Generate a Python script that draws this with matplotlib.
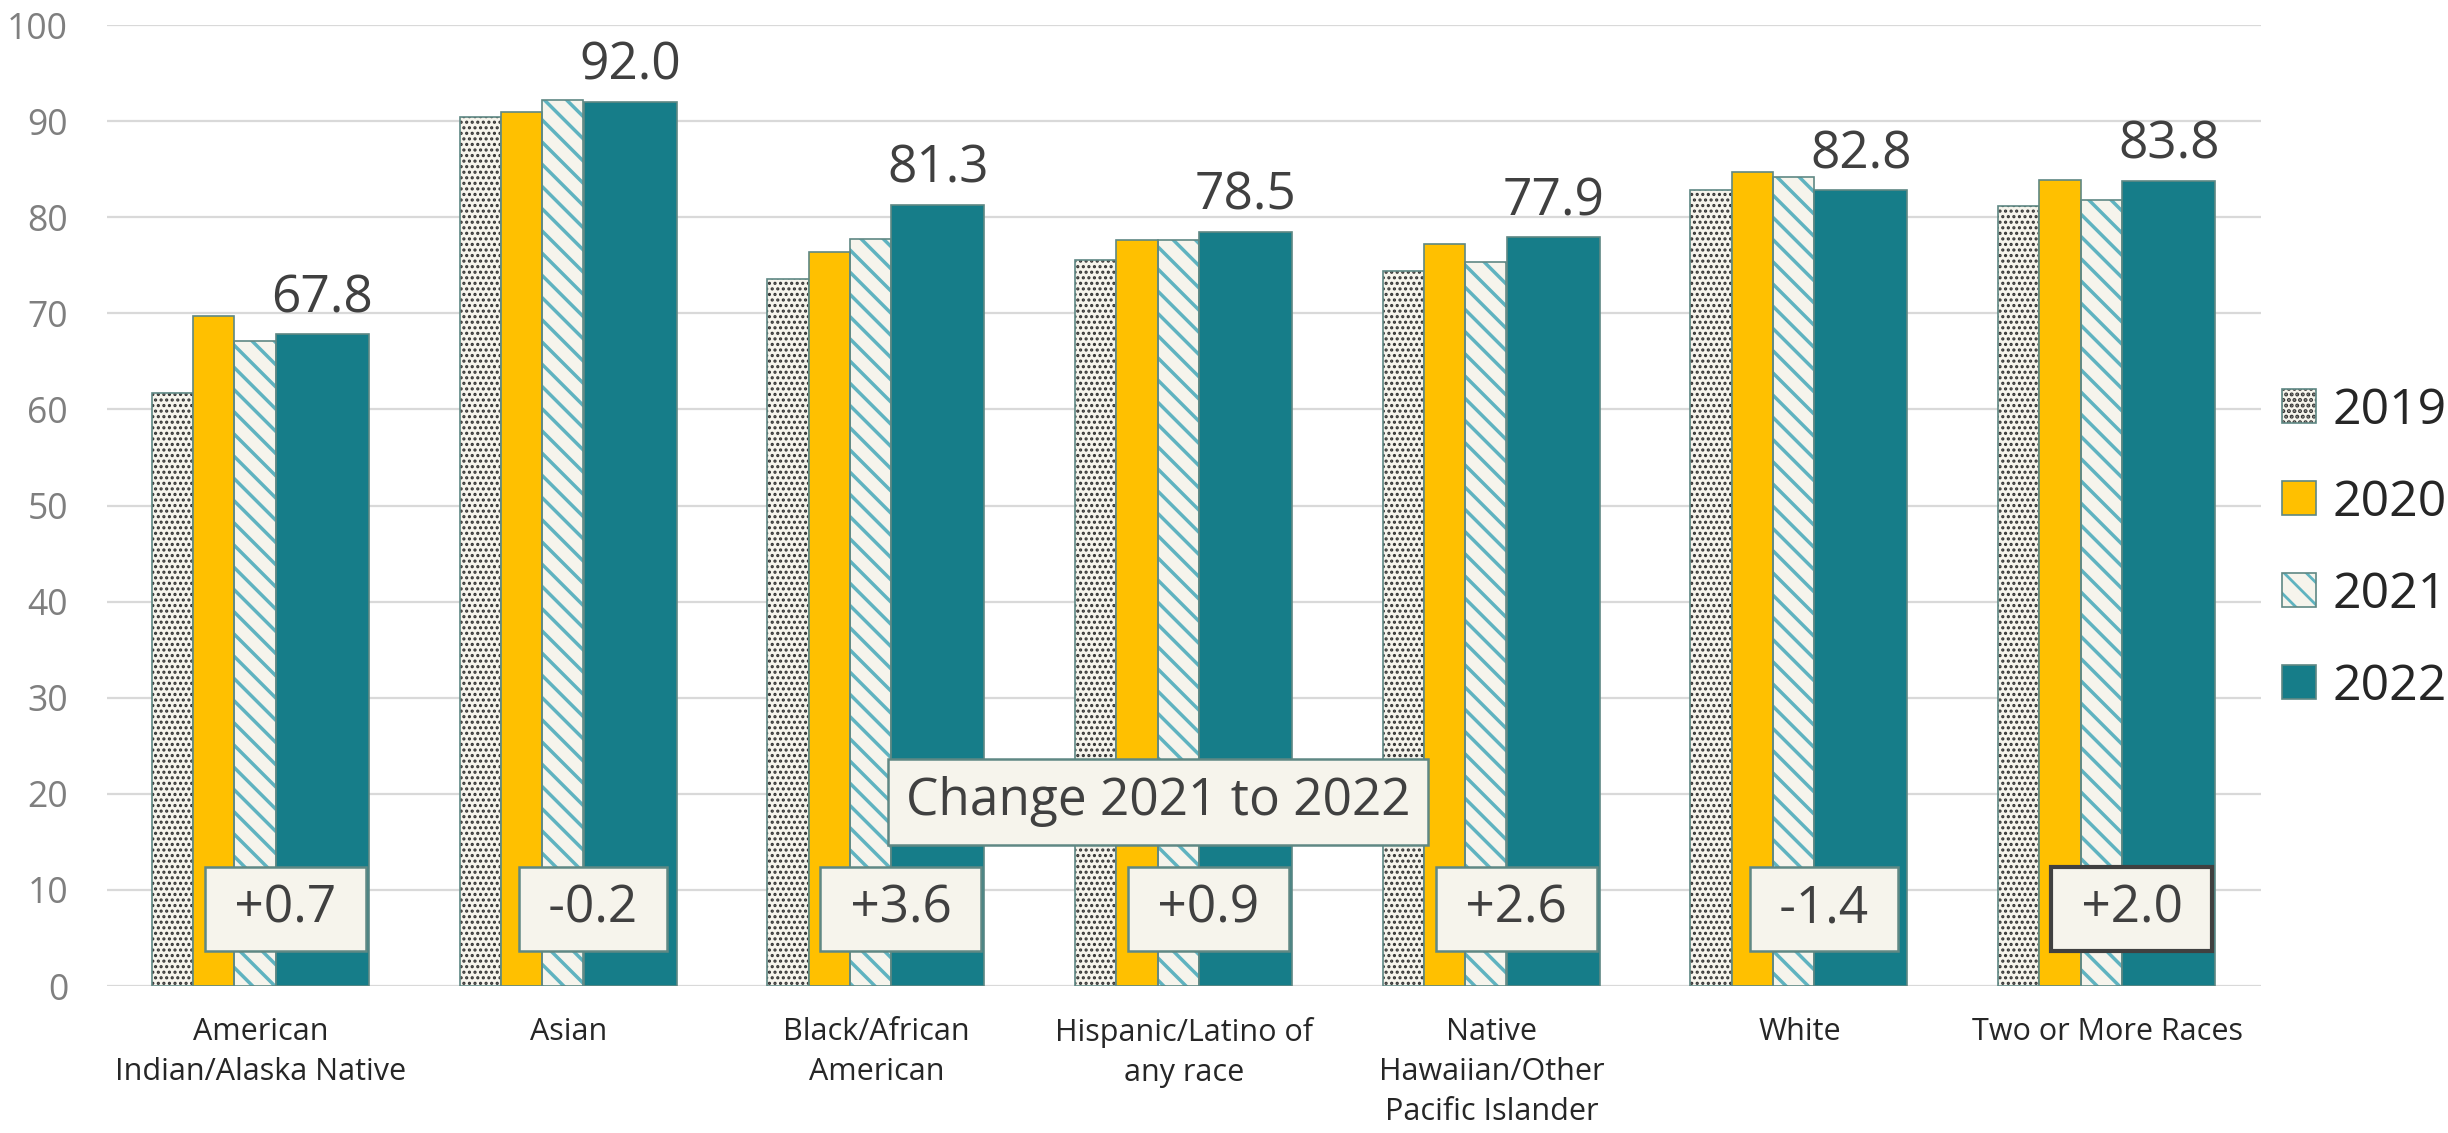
import numpy as np
import matplotlib
matplotlib.use("Agg")
import matplotlib.pyplot as plt
from matplotlib.patches import Patch
from matplotlib.legend_handler import HandlerTuple

plt.rcParams['font.family'] = ['Open Sans', 'DejaVu Sans']
plt.rcParams['hatch.linewidth'] = 1.0

categories = ["American\nIndian/Alaska Native", "Asian", "Black/African\nAmerican",
              "Hispanic/Latino of\nany race", "Native\nHawaiian/Other\nPacific Islander",
              "White", "Two or More Races"]
years = ["2019", "2020", "2021", "2022"]
v2019 = [61.7, 90.4, 73.6, 75.6, 74.4, 82.8, 81.2]
v2020 = [69.7, 91.0, 76.4, 77.6, 77.2, 84.7, 83.9]
v2021 = [67.1, 92.2, 77.7, 77.6, 75.3, 84.2, 81.8]
v2022 = [67.8, 92.0, 81.3, 78.5, 77.9, 82.8, 83.8]
change_title = "Change 2021 to 2022"
yticks = [0, 10, 20, 30, 40, 50, 60, 70, 80, 90, 100]

CREAM = "#f6f4ec"
EDGE = "#5f8884"
GOLD = "#ffc000"
TEAL = "#167d89"
STRIPE = "#5fb3c0"
DOT = "#333333"
DOT_HATCH = "......"
STRIPE_HATCH = "\\\\\\"


def set_hlw(artists, lw):
    for a in artists:
        try:
            a.set_hatch_linewidth(lw)
        except AttributeError:
            pass


fig = plt.figure(figsize=(12.24, 5.665), dpi=200)
ax = fig.add_axes([0.0437, 0.1297, 0.8799, 0.8482])
x = np.arange(len(categories))

w = 0.134
w22 = 0.302
offs = [-0.287, -0.153, -0.019, 0.200]
edge_lw = 0.6

# 2019: dotted
b = ax.bar(x + offs[0], v2019, w, color=CREAM, edgecolor=DOT, hatch=DOT_HATCH, linewidth=0, zorder=2)
set_hlw(b, 0.75)
ax.bar(x + offs[0], v2019, w, fill=False, edgecolor=EDGE, linewidth=edge_lw, zorder=3)
# 2020: gold
ax.bar(x + offs[1], v2020, w, color=GOLD, edgecolor=EDGE, linewidth=edge_lw, zorder=3)
# 2021: stripes
b = ax.bar(x + offs[2], v2021, w, color=CREAM, edgecolor=STRIPE, hatch=STRIPE_HATCH, linewidth=0, zorder=2)
set_hlw(b, 1.25)
ax.bar(x + offs[2], v2021, w, fill=False, edgecolor=EDGE, linewidth=edge_lw, zorder=3)
# 2022: teal wide
ax.bar(x + offs[3], v2022, w22, color=TEAL, edgecolor=EDGE, linewidth=edge_lw, zorder=3)

# value labels on 2022
for xi, v in zip(x, v2022):
    ax.annotate(f"{v:.1f}", (xi + offs[3], v), xytext=(0, 8), textcoords="offset points",
                ha="center", va="baseline", fontsize=18.5, color="#404040", zorder=5)

# change boxes
for i, (a, bb) in enumerate(zip(v2021, v2022)):
    d = round(bb - a, 1)
    last = i == len(x) - 1
    ec = "#404040" if last else EDGE
    lw = 1.5 if last else 0.9
    ax.text(i + 0.08, 8.0, f" {d:+.1f} ", ha="center", va="center",
            fontsize=18.5, color="#404040", zorder=6,
            bbox=dict(boxstyle="square,pad=0.32", facecolor=CREAM, edgecolor=ec, linewidth=lw))

ax.text(2.916, 19.2, change_title, ha="center", va="center", fontsize=18.5,
        color="#404040", zorder=6,
        bbox=dict(boxstyle="square,pad=0.34", facecolor=CREAM, edgecolor=EDGE, linewidth=0.9))

ax.set_xlim(-0.5, len(categories) - 0.5)
ax.set_ylim(0, 100)
ax.set_yticks(yticks)
ax.set_xticks(x)
ax.set_xticklabels(categories, fontsize=11, color="#262626", linespacing=1.45)
ax.tick_params(axis="y", labelsize=12.8, labelcolor="#7f7f7f", length=0, pad=14)
ax.tick_params(axis="x", length=0, pad=11)
ax.grid(axis="y", color="#d9d9d9", linewidth=0.8, zorder=0)
ax.set_axisbelow(True)
for s in ax.spines.values():
    s.set_visible(False)

# legend
h19a = Patch(facecolor=CREAM, edgecolor=DOT, hatch=DOT_HATCH, linewidth=0)
h21a = Patch(facecolor=CREAM, edgecolor=STRIPE, hatch=STRIPE_HATCH, linewidth=0)
set_hlw([h19a], 0.75)
set_hlw([h21a], 1.25)
h19 = (h19a, Patch(fill=False, edgecolor=EDGE, linewidth=edge_lw))
h20 = Patch(facecolor=GOLD, edgecolor=EDGE, linewidth=edge_lw)
h21 = (h21a, Patch(fill=False, edgecolor=EDGE, linewidth=edge_lw))
h22 = Patch(facecolor=TEAL, edgecolor=EDGE, linewidth=edge_lw)
leg = ax.legend([h19, h20, h21, h22], years, loc="center left", bbox_to_anchor=(1.0097, 0.4547),
                frameon=False, fontsize=18, handlelength=0.68, handleheight=0.68,
                handletextpad=0.34, labelspacing=0.85, borderpad=0, borderaxespad=0,
                handler_map={tuple: HandlerTuple(ndivide=1, pad=0)})
for t in leg.get_texts():
    t.set_color("#262626")

fig.savefig("out.png", dpi=200)
